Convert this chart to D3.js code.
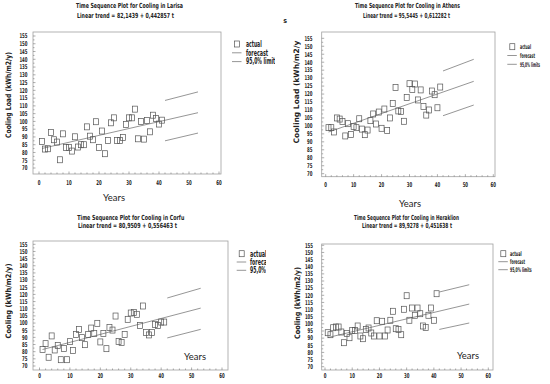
<!DOCTYPE html>
<html><head><meta charset="utf-8">
<script src="https://cdn.jsdelivr.net/npm/d3@7"></script>
<style>
html,body{margin:0;padding:0;background:#fff;}
svg{display:block;}
.bold{font-family:"Liberation Sans Narrow","DejaVu Sans Condensed","Liberation Sans",sans-serif;font-weight:bold;fill:#222;}
.years{font-family:Lato,"Open Sans",sans-serif;fill:#222;}
</style></head>
<body>
<svg id="c" width="550" height="384"></svg>
<script>
// ---------- DATA ----------
const timeIndex = [1,2,3,4,5,6,7,8,9,10,11,12,13,14,15,16,17,18,19,20,21,22,23,24,25,26,27,28,29,30,31,32,33,34,35,36,37,38,39,40,41];
const larisaValues = [87.1,82.2,82.4,92.9,88.2,86.7,75.3,92.0,83.3,83.3,80.9,90.1,83.5,85.0,85.0,96.5,90.5,88.2,99.8,83.3,93.8,79.2,87.8,99.1,102.3,87.8,87.8,89.7,98.0,102.3,102.3,107.9,88.8,100.0,88.6,100.6,93.3,104.0,101.9,98.3,100.8];
const athensValues = [98.9,98.9,96.2,105.0,104.3,102.7,93.7,101.4,94.7,99.7,98.9,104.5,98.0,94.5,97.4,103.3,107.5,101.2,108.7,98.5,110.6,97.2,105.0,114.0,124.2,109.4,109.1,102.9,117.9,126.5,122.8,126.3,116.3,122.6,112.1,106.8,110.0,121.9,119.6,111.4,124.4];
const corfuValues = [81.6,85.6,76.1,91.0,81.2,84.4,74.4,82.3,74.4,87.0,80.9,92.1,95.4,89.8,84.9,91.9,96.5,92.8,99.8,86.8,92.8,82.1,96.8,95.1,104.9,87.2,86.5,92.1,102.6,107.0,107.3,106.1,98.2,111.9,93.5,91.7,93.5,99.1,98.2,100.7,100.7];
const heraklionValues = [93.8,92.4,97.3,97.8,97.8,94.3,86.8,93.3,90.3,95.4,95.4,98.5,91.5,89.6,96.1,97.1,93.6,91.5,102.2,91.5,101.8,91.5,95.7,102.5,108.8,96.6,96.1,92.4,110.2,119.7,102.5,111.1,106.0,111.1,107.1,98.5,97.5,106.0,111.1,102.5,121.1];

// linear trend coefficients as printed on the chart
const larisaTrend = [82.1439, 0.442857];
const athensTrend = [95.5445, 0.612282];
const corfuTrend = [80.9509, 0.556463];
const heraklionTrend = [89.9278, 0.451638];
const forecastSpan = [1, 53];

// 95% limits at forecast times
const limitTimes = [42, 53];
const larisaUpper = [113.5, 119.0], larisaLower = [87.5, 92.5];
const athensUpper = [134.5, 141.8], athensLower = [106.4, 113.1];
const corfuUpper = [117.5, 124.3], corfuLower = [89.6, 95.6];
const heraklionUpper = [122.3, 127.4], heraklionLower = [96.1, 100.6];

const yTicks = [70,75,80,85,90,95,100,105,110,115,120,125,130,135,140,145,150,155];
const xTicks = [0,10,20,30,40,50,60];

const titles = ["Time Sequence Plot for Cooling in Larisa","Time Sequence Plot for Cooling in Athens","Time Sequence Plot for Cooling in Corfu","Time Sequence Plot for Cooling in Heraklion"];
const trendLabels = ["Linear trend = 82,1439 + 0,442857 t","Linear trend = 95,5445 + 0,612282 t","Linear trend = 80,9509 + 0,556463 t","Linear trend = 89,9278 + 0,451638 t"];
const yLabels = ["Cooling Load (kWh/m2/y)","Cooling Load (kWh/m2/y","Cooling (kWh/m2/y)","Cooling (kWh/m2/y)"];
const legendLabels = ["actual","forecast","95,0% limits"];

// ---------- LAYOUT ----------
const panels = [
 {values:larisaValues, trend:larisaTrend, up:larisaUpper, lo:larisaLower,
  xr:[39,219], yr:[168,36], frame:[33,32,221,174], clip:[0,0,275,192],
  title:[129.5,8, 107], trendPos:[125.5,18, 97], yl:[8,95,86], yt:27.5, xl:184.5,
  leg:[237,44,246,8.8], legW:[15.7,22,32], legFs:8},
 {values:athensValues, trend:athensTrend, up:athensUpper, lo:athensLower,
  xr:[325.7,493.3], yr:[173.7,38.3], frame:[321.7,32,495,176.7], clip:[275,0,550,192],
  title:[407.5,8, 105], trendPos:[406.6,18, 87], yl:[296,92,103], yt:312.5, xl:186.5,
  leg:[512.3,46.7,520,8.8], legW:[11,15,20], legFs:6.5},
 {values:corfuValues, trend:corfuTrend, up:corfuUpper, lo:corfuLower,
  xr:[39.5,222], yr:[366,244.3], frame:[33,241,228,370], clip:[0,192,266,384],
  title:[130.8,219.5, 107], trendPos:[127.5,228, 99], yl:[8,301,75], yt:27.5, xl:377.5,
  leg:[241.7,253.7,250,8.3], legW:[16.7,22,32], legFs:8},
 {values:heraklionValues, trend:heraklionTrend, up:heraklionUpper, lo:heraklionLower,
  xr:[325,488.3], yr:[366.7,245.3], frame:[321.7,244,493,370], clip:[275,192,550,384],
  title:[406.5,219.5, 105], trendPos:[407,228, 90], yl:[297,303,72], yt:313, xl:378,
  leg:[503.3,253.7,510,8.0], legW:[11.7,15,21.7], legFs:6.5}
];
const yearsLabels = [[114,201],[410,207],[195,360],[468,359]];

const svg = d3.select("#c");
const defs = svg.append("defs");
const grey = "#8a8a8a";
const charW = 2.7;

panels.forEach((p,i)=>{
  const [cx0,cy0,cx1,cy1] = p.clip;
  defs.append("clipPath").attr("id","clip"+i).append("rect")
    .attr("x",cx0).attr("y",cy0).attr("width",cx1-cx0).attr("height",cy1-cy0);
  const g = svg.append("g").attr("clip-path",`url(#clip${i})`);
  const x = d3.scaleLinear().domain([0,60]).range(p.xr);
  const y = d3.scaleLinear().domain([70,155]).range(p.yr);
  const [fx0,fy0,fx1,fy1] = p.frame;

  // frame
  g.append("rect").attr("x",fx0).attr("y",fy0).attr("width",fx1-fx0).attr("height",fy1-fy0)
    .attr("fill","none").attr("stroke","#a0a0a0").attr("stroke-width",0.8);

  // left axis ticks (inward) + labels
  const minorY = d3.range(70,157.5,2.5);
  g.selectAll(null).data(minorY).enter().append("line")
    .attr("x1",fx0).attr("x2",d=> fx0 + (d%5===0?2.5:1.5))
    .attr("y1",d=>y(d)).attr("y2",d=>y(d)).attr("stroke","#777").attr("stroke-width",0.6);
  g.selectAll(null).data(yTicks).enter().append("text").attr("class","bold")
    .attr("x",p.yt).attr("y",d=>y(d)).attr("dy","0.35em").attr("text-anchor","end")
    .attr("font-size",6.6).attr("textLength",d=>String(d).length*charW)
    .attr("lengthAdjust","spacingAndGlyphs").text(d=>d);

  // bottom axis ticks + labels
  const minorX = d3.range(0,62,2);
  g.selectAll(null).data(minorX).enter().append("line")
    .attr("x1",d=>x(d)).attr("x2",d=>x(d))
    .attr("y1",fy1).attr("y2",d=>fy1-(d%10===0?2.5:1.5)).attr("stroke","#777").attr("stroke-width",0.6);
  g.selectAll(null).data(xTicks).enter().append("text").attr("class","bold")
    .attr("x",d=>x(d)).attr("y",p.xl).attr("text-anchor","middle")
    .attr("font-size",6.6).attr("textLength",d=>String(d).length*charW)
    .attr("lengthAdjust","spacingAndGlyphs").text(d=>d);

  // titles
  g.append("text").attr("class","bold").attr("x",p.title[0]).attr("y",p.title[1])
    .attr("text-anchor","middle").attr("font-size",7).attr("textLength",p.title[2])
    .attr("lengthAdjust","spacingAndGlyphs").text(titles[i]);
  g.append("text").attr("class","bold").attr("x",p.trendPos[0]).attr("y",p.trendPos[1])
    .attr("text-anchor","middle").attr("font-size",7).attr("textLength",p.trendPos[2])
    .attr("lengthAdjust","spacingAndGlyphs").text(trendLabels[i]);

  // y label
  g.append("text").attr("class","bold")
    .attr("transform",`translate(${p.yl[0]},${p.yl[1]}) rotate(-90)`)
    .attr("text-anchor","middle").attr("dy","0.35em").attr("font-size",7.5).attr("textLength",p.yl[2])
    .attr("lengthAdjust","spacingAndGlyphs").text(yLabels[i]);

  // forecast line
  const fc = forecastSpan.map(t=>[t, p.trend[0]+p.trend[1]*t]);
  const line = d3.line().x(d=>x(d[0])).y(d=>y(d[1]));
  g.append("path").attr("d",line(fc)).attr("fill","none").attr("stroke",grey).attr("stroke-width",0.9);
  // limits
  [p.up,p.lo].forEach(arr=>{
    g.append("path").attr("d",line(limitTimes.map((t,k)=>[t,arr[k]])))
      .attr("fill","none").attr("stroke",grey).attr("stroke-width",0.9);
  });

  // actual points
  g.selectAll(null).data(p.values).enter().append("rect")
    .attr("x",(d,k)=>x(timeIndex[k])-2.5).attr("y",d=>y(d)-3)
    .attr("width",5).attr("height",6)
    .attr("fill","none").attr("stroke","#555").attr("stroke-width",0.7);

  // legend
  const [lx,ly,tx,gap] = p.leg;
  g.append("rect").attr("x",lx-2.5).attr("y",ly-3).attr("width",5).attr("height",6)
    .attr("fill","none").attr("stroke","#555").attr("stroke-width",0.7);
  [1,2].forEach(k=>{
    g.append("line").attr("x1",lx-5).attr("x2",lx+4.5).attr("y1",ly+gap*k).attr("y2",ly+gap*k)
      .attr("stroke",grey).attr("stroke-width",0.9);
  });
  legendLabels.forEach((lab,k)=>{
    g.append("text").attr("class","bold").attr("x",tx).attr("y",ly+gap*k).attr("dy","0.35em")
      .attr("font-size",p.legFs).attr("textLength",p.legW[k])
      .attr("lengthAdjust","spacingAndGlyphs").text(lab);
  });
});

// stray "s" near Athens panel
svg.append("text").attr("class","bold").attr("x",285).attr("y",22.5).attr("text-anchor","middle")
  .attr("font-size",7).text("s");

// "Years" labels
svg.selectAll(null).data(yearsLabels).enter().append("text").attr("class","years")
  .attr("x",d=>d[0]).attr("y",d=>d[1]).attr("text-anchor","middle").attr("font-size",10)
  .attr("textLength",22).attr("lengthAdjust","spacingAndGlyphs").text("Years");
</script>
</body></html>
